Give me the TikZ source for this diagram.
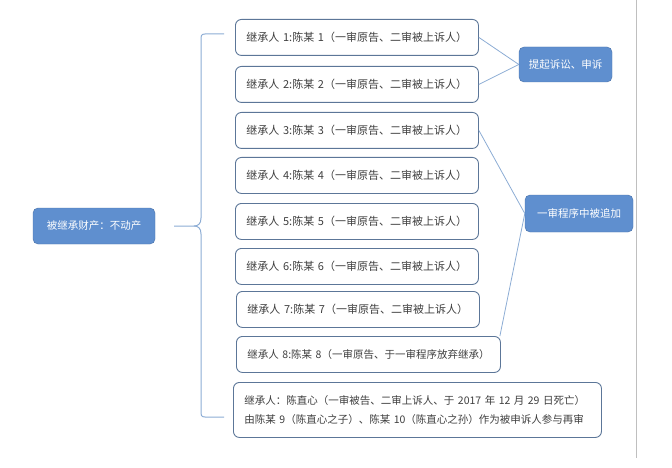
\documentclass[tikz,border=0pt]{standalone}
\usepackage{fontspec}
\setmainfont{Noto Sans CJK SC}
\usetikzlibrary{positioning}
\definecolor{nodeblue}{RGB}{95,143,207}
\definecolor{nodeedge}{RGB}{72,112,168}
\definecolor{boxedge}{RGB}{92,118,152}
\definecolor{linkblue}{RGB}{140,172,212}
\definecolor{textgray}{RGB}{62,62,62}
\tikzset{
  bluenode/.style={draw=nodeedge, fill=nodeblue, rounded corners=5pt, text=white,
    font=\fontsize{10.5}{12}\selectfont, inner sep=0pt},
  heirbox/.style={draw=boxedge, line width=0.9pt, rounded corners=6pt, anchor=north west,
    text=textgray, font=\fontsize{11}{19}\selectfont, inner xsep=11pt, inner ysep=0pt,
    align=left, minimum height=36pt},
  smalltext/.style={font=\fontsize{10.5}{19}\selectfont},
  link/.style={draw=linkblue, line width=0.8pt}
}
\begin{document}
\begin{tikzpicture}[x=1pt, y=-1pt]
  \useasboundingbox (0,0) rectangle (672,468);
  % page edge
  \draw[black!25, line width=0.8pt] (636,0) -- (636,458);

  % root
  \node[bluenode, minimum width=122pt, minimum height=36pt] (root) at (94,226) {被继承财产：不动产};

  % brace
  \draw[link, line width=1pt] (224,34) -- (205,34) .. controls (201,34) and (201,36) .. (201,40)
    -- (201,218) .. controls (201,224) and (198,226) .. (194,226) -- (174,226);
  \draw[link, line width=1pt] (224,417) -- (205,417) .. controls (201,417) and (201,415) .. (201,411)
    -- (201,234) .. controls (201,228) and (198,226) .. (194,226);

  % heirs
  \node[heirbox, text width=221pt] (h1) at (235,19) {\mbox{继承人 1:陈某 1（一审原告、二审被上诉人）}};
  \node[heirbox, text width=221pt] (h2) at (235,66) {\mbox{继承人 2:陈某 2（一审原告、二审被上诉人）}};
  \node[heirbox, text width=221pt] (h3) at (235,112) {\mbox{继承人 3:陈某 3（一审原告、二审被上诉人）}};
  \node[heirbox, text width=221pt] (h4) at (235,157) {\mbox{继承人 4:陈某 4（一审原告、二审被上诉人）}};
  \node[heirbox, text width=221pt] (h5) at (235,203) {\mbox{继承人 5:陈某 5（一审原告、二审被上诉人）}};
  \node[heirbox, text width=221pt] (h6) at (235,248) {\mbox{继承人 6:陈某 6（一审原告、二审被上诉人）}};
  \node[heirbox, text width=221pt] (h7) at (236,291) {\mbox{继承人 7:陈某 7（一审原告、二审被上诉人）}};
  \node[heirbox, smalltext, text width=242pt] (h8) at (236,336) {\mbox{继承人 8:陈某 8（一审原告、于一审程序放弃继承）}};
  \node[heirbox, smalltext, text width=346pt, minimum height=55pt] (h9) at (233,382)
    {\mbox{继承人：陈直心（一审被告、二审上诉人、于 2017 年 12 月 29 日死亡）}\\
     \mbox{由陈某 9（陈直心之子）、陈某 10（陈直心之孙）作为被申诉人参与再审}};

  % groups
  \node[bluenode, minimum width=93pt, minimum height=35pt] (sue) at (565.5,64.5) {提起诉讼、申诉};
  \node[bluenode, minimum width=108pt, minimum height=37pt] (added) at (579,213.5) {一审程序中被追加};

  \draw[link] (h1.east) -- (sue.west);
  \draw[link] (h2.east) -- (sue.west);
  \draw[link] (h3.east) -- (added.west);
  \draw[link] ([xshift=-1pt]h8.north east) -- (added.west);
\end{tikzpicture}
\end{document}
